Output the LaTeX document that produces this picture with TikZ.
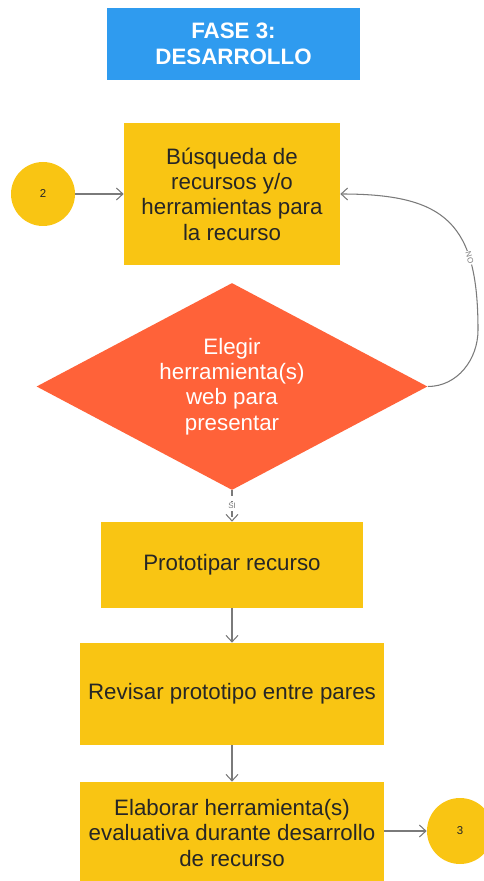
\documentclass[tikz,border=0pt]{standalone}
\usepackage{fontspec}
\setmainfont{Liberation Sans}
\usetikzlibrary{shapes.geometric, arrows.meta}

\definecolor{faseblue}{HTML}{2F9BEF}
\definecolor{faseyellow}{HTML}{F9C513}
\definecolor{faseorange}{HTML}{FF6239}
\definecolor{fasegray}{HTML}{7A7A7A}

\begin{document}
\begin{tikzpicture}[
  >={Straight Barb[length=1.3mm, width=2.4mm]},
  txt/.style={font=\fontsize{12.7pt}{14.4pt}\selectfont, align=center},
  title/.style={txt, font=\fontsize{12.7pt}{14.8pt}\selectfont\bfseries, fill=faseblue, text=white, inner sep=0pt},
  process/.style={txt, fill=faseyellow, text=black!85, inner sep=0pt},
  decision/.style={txt, diamond, shape aspect=1.9, fill=faseorange, text=white, inner sep=0pt,
    minimum width=7.82cm, minimum height=4.14cm},
  connector/.style={circle, fill=faseyellow, text=black!85, inner sep=0pt, font=\fontsize{6.5pt}{7pt}\selectfont},
  flow/.style={->, draw=fasegray, line width=0.6pt},
  tag/.style={fill=white, inner sep=0.6pt, text=fasegray, font=\fontsize{4.5pt}{5pt}\selectfont}
]
  \useasboundingbox (0,0) rectangle (9.68,-17.62);

  % Nodes
  \node[title, minimum width=5.06cm, minimum height=1.44cm] (fase) at (4.67,-0.88) {FASE 3:\\DESARROLLO};
  \node[process, minimum width=4.32cm, minimum height=2.84cm] (busqueda) at (4.64,-3.88)
    {Búsqueda de\\recursos y/o\\herramientas para\\la recurso};
  \node[connector, minimum size=1.28cm] (dos) at (0.86,-3.88) {2};
  \node[decision] (elegir) at (4.64,-7.73) {Elegir\\herramienta(s)\\web para\\presentar};
  \coordinate (vuelta) at (9.56,-6.6);
  \node[process, minimum width=5.24cm, minimum height=1.72cm] (prototipar) at (4.64,-11.3) {Prototipar recurso};
  \node[process, minimum width=6.08cm, minimum height=2.04cm] (revisar) at (4.64,-13.88) {Revisar prototipo entre pares};
  \node[process, minimum width=6.08cm, minimum height=2.04cm] (elaborar) at (4.64,-16.66)
    {Elaborar herramienta(s)\\evaluativa durante desarrollo\\de recurso};
  \node[connector, minimum size=1.32cm] (tres) at (9.2,-16.62) {3};

  % Arrows
  \draw[flow] (dos) -- (busqueda);
  \draw[flow] (elegir.east) to[out=0, in=-90] (vuelta)
    to[out=90, in=0, looseness=1.4] node[tag, sloped, pos=0.28] {NO} (busqueda.east);
  \draw[flow, dashed] (elegir.south) -- node[tag] {SI} (prototipar.north);
  \draw[flow] (prototipar) -- (revisar);
  \draw[flow] (revisar) -- (elaborar);
  \draw[flow] (elaborar.east |- tres) -- (tres);
\end{tikzpicture}
\end{document}
